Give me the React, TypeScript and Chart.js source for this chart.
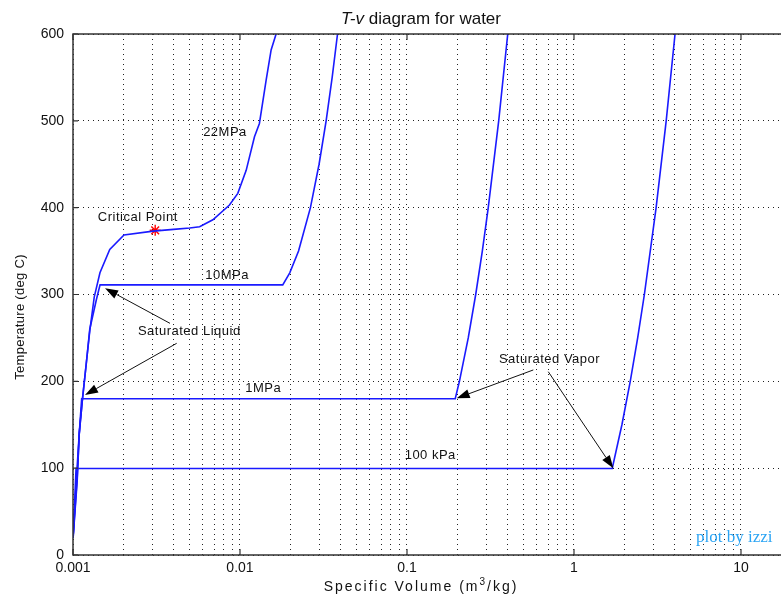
import React, { useEffect, useRef } from 'react';
import { Chart, registerables } from 'chart.js';

Chart.register(...registerables);

// ---- Isobar data (specific volume m^3/kg, temperature degC) ----
const v100kPa = [0.001002, 0.001043, 1.694, 1.936, 2.172, 2.406, 2.639, 3.103, 3.565, 4.028];
const T100kPa = [20, 99.6, 99.6, 150, 200, 250, 300, 400, 500, 600];

const v1MPa = [0.001002, 0.00106, 0.00109, 0.001127, 0.1944, 0.206, 0.2327, 0.2579, 0.2825, 0.3066, 0.3541, 0.4011];
const T1MPa = [20, 86, 140, 179.9, 179.9, 200, 250, 300, 350, 400, 500, 600];

const v10MPa = [0.001, 0.00106, 0.00109, 0.00114, 0.0012, 0.00126, 0.00138, 0.001452, 0.01803, 0.01986, 0.02242, 0.02641, 0.02975, 0.03279, 0.03564, 0.03837];
const T10MPa = [20, 90, 140, 180, 220, 260, 294, 311.1, 311.1, 325, 350, 400, 450, 500, 550, 600];

const v22MPa = [0.001, 0.00105, 0.00109, 0.00114, 0.0012, 0.00126, 0.00134, 0.00145, 0.00166, 0.00202, 0.00302, 0.004, 0.005, 0.00573, 0.00688, 0.00865, 0.0097, 0.01089, 0.01221, 0.01307, 0.01434, 0.01536, 0.01645];
const T22MPa = [20, 90, 140, 180, 220, 258, 297, 325, 352, 368.5, 373, 375, 376.6, 378, 386, 403, 416.5, 443, 481.7, 497, 547, 581.6, 600];

const criticalV = [0.003106];
const criticalT = [373.95];

// ---- Axes ----
const xMin = 0.001;
const xMax = 17.36;
const yMin = 0;
const yMax = 600;
const xTickValues = [0.001, 0.01, 0.1, 1, 10];
const xTickLabels = ['0.001', '0.01', '0.1', '1', '10'];
const xMinorFactors = [2, 3, 4, 5, 6, 7, 8, 9];
const yStep = 100;

// ---- Annotations (data coordinates) ----
const labelTexts = ['22MPa', 'Critical Point', '10MPa', '1MPa', '100 kPa', 'Saturated Liquid', 'Saturated Vapor'];
const labelV = [0.00813, 0.002444, 0.008361, 0.01378, 0.1378, 0.00497, 0.7135];
const labelT = [486.8, 388.9, 322.5, 192, 115.2, 257.2, 225.7];

const arrowTailV = [0.003809, 0.004178, 0.5705, 0.7015];
const arrowTailT = [266.8, 243.8, 213.1, 211.1];
const arrowTipV = [0.001555, 0.00118, 0.1984, 1.719];
const arrowTipT = [307.2, 184.3, 180.5, 99.8];

const watermarkText = 'plot by izzi';
const watermarkV = 9.12;
const watermarkT = 19.9;

const titleItalic = 'T-v';
const titleRest = ' diagram for water';
const yTitle = 'Temperature (deg C)';
const xTitleA = 'Specific Volume (m';
const xTitleSup = '3';
const xTitleB = '/kg)';

const SANS = '"Liberation Sans", Arial, Helvetica, sans-serif';
const LINE = '#1a1aff';
const PLOT_RIGHT = 781;

const overlay = {
  id: 'overlay',
  afterLayout(chart: any) {
    const x = chart.scales.x;
    x.right = PLOT_RIGHT;
    x.width = PLOT_RIGHT - x.left;
    x.configure();
    chart.chartArea.right = PLOT_RIGHT;
    chart.chartArea.width = PLOT_RIGHT - chart.chartArea.left;
  },
  afterDatasetsDraw(chart: any) {
    const { ctx, chartArea, scales } = chart;
    const x = scales.x;
    const y = scales.y;
    ctx.save();

    // arrows
    ctx.strokeStyle = '#111';
    ctx.fillStyle = '#000';
    ctx.lineWidth = 1;
    for (let i = 0; i < arrowTailV.length; i++) {
      const x1 = x.getPixelForValue(arrowTailV[i]);
      const y1 = y.getPixelForValue(arrowTailT[i]);
      const x2 = x.getPixelForValue(arrowTipV[i]);
      const y2 = y.getPixelForValue(arrowTipT[i]);
      const ang = Math.atan2(y2 - y1, x2 - x1);
      const len = 13;
      const hw = 4.5;
      const bx = x2 - len * Math.cos(ang);
      const by = y2 - len * Math.sin(ang);
      ctx.beginPath();
      ctx.moveTo(x1, y1);
      ctx.lineTo(bx, by);
      ctx.stroke();
      ctx.beginPath();
      ctx.moveTo(x2, y2);
      ctx.lineTo(bx + hw * Math.sin(ang), by - hw * Math.cos(ang));
      ctx.lineTo(bx - hw * Math.sin(ang), by + hw * Math.cos(ang));
      ctx.closePath();
      ctx.fill();
    }

    // labels
    ctx.font = `13px ${SANS}`;
    (ctx as any).letterSpacing = '0.5px';
    ctx.textAlign = 'center';
    ctx.textBaseline = 'middle';
    ctx.fillStyle = '#111';
    for (let i = 0; i < labelTexts.length; i++) {
      ctx.fillText(labelTexts[i], x.getPixelForValue(labelV[i]), y.getPixelForValue(labelT[i]));
    }
    (ctx as any).letterSpacing = '0px';

    // watermark
    ctx.font = `17px "Liberation Serif", "DejaVu Serif", serif`;
    ctx.fillStyle = '#2aa4f4';
    ctx.fillText(watermarkText, x.getPixelForValue(watermarkV), y.getPixelForValue(watermarkT));

    // frame
    const { left, right, top, bottom } = chartArea;
    ctx.strokeStyle = '#333';
    ctx.lineWidth = 1.5;
    ctx.beginPath();
    ctx.moveTo(right + 5, top);
    ctx.lineTo(left, top);
    ctx.lineTo(left, bottom);
    ctx.lineTo(right + 5, bottom);
    ctx.stroke();

    ctx.lineWidth = 1.2;
    ctx.beginPath();
    for (const v of xTickValues) {
      const px = x.getPixelForValue(v);
      ctx.moveTo(px, bottom);
      ctx.lineTo(px, bottom - 6);
      ctx.moveTo(px, top);
      ctx.lineTo(px, top + 6);
    }
    for (let t = yMin; t <= yMax; t += yStep) {
      const py = y.getPixelForValue(t);
      ctx.moveTo(left, py);
      ctx.lineTo(left + 5, py);
    }
    ctx.stroke();
    ctx.restore();
  },
  afterDraw(chart: any) {
    const { ctx } = chart;
    ctx.save();
    ctx.fillStyle = '#111';
    ctx.textBaseline = 'middle';

    // title
    const cx = 421;
    ctx.font = `italic 17px ${SANS}`;
    const wi = ctx.measureText(titleItalic).width;
    ctx.font = `17px ${SANS}`;
    const wr = ctx.measureText(titleRest).width;
    const sx = cx - (wi + wr) / 2;
    ctx.textAlign = 'left';
    ctx.font = `italic 17px ${SANS}`;
    ctx.fillText(titleItalic, sx, 19);
    ctx.font = `17px ${SANS}`;
    ctx.fillText(titleRest, sx + wi, 19);

    // x title
    (ctx as any).letterSpacing = '2px';
    ctx.font = `14px ${SANS}`;
    const wa = ctx.measureText(xTitleA).width;
    const wb = ctx.measureText(xTitleB).width;
    ctx.font = `10px ${SANS}`;
    const ws = ctx.measureText(xTitleSup).width;
    let px = 421 - (wa + ws + wb) / 2;
    const py = 587;
    ctx.font = `14px ${SANS}`;
    ctx.fillText(xTitleA, px, py);
    px += wa;
    ctx.font = `10px ${SANS}`;
    ctx.fillText(xTitleSup, px, py - 5);
    px += ws;
    ctx.font = `14px ${SANS}`;
    ctx.fillText(xTitleB, px, py);

    // y title
    (ctx as any).letterSpacing = '0.3px';
    ctx.font = `13px ${SANS}`;
    ctx.textAlign = 'center';
    ctx.translate(20, 317);
    ctx.rotate(-Math.PI / 2);
    ctx.fillText(yTitle, 0, 0);
    ctx.restore();
  },
};

function buildXTicks() {
  const ticks: { value: number }[] = [];
  for (const d of xTickValues) {
    ticks.push({ value: d });
    for (const k of xMinorFactors) {
      const v = parseFloat((d * k).toPrecision(6));
      if (v <= xMax) ticks.push({ value: v });
    }
  }
  return ticks;
}

export default function App() {
  const ref = useRef<HTMLCanvasElement | null>(null);

  useEffect(() => {
    if (!ref.current) return;
    const mk = (vs: number[], ts: number[]) => vs.map((v, i) => ({ x: v, y: ts[i] }));
    const lineDs = (label: string, vs: number[], ts: number[]) => ({
      label,
      data: mk(vs, ts),
      showLine: true,
      borderColor: LINE,
      backgroundColor: LINE,
      borderWidth: 1.6,
      pointRadius: 0,
      tension: 0,
      fill: false,
    });
    const chart = new Chart(ref.current, {
      type: 'scatter',
      data: {
        datasets: [
          lineDs('100 kPa', v100kPa, T100kPa),
          lineDs('1 MPa', v1MPa, T1MPa),
          lineDs('10 MPa', v10MPa, T10MPa),
          lineDs('22 MPa', v22MPa, T22MPa),
          {
            label: 'Critical Point',
            data: mk(criticalV, criticalT),
            showLine: false,
            pointStyle: 'star',
            pointRadius: 5.5,
            borderColor: '#ff0000',
            backgroundColor: '#ff0000',
            borderWidth: 1.4,
          } as any,
        ],
      },
      options: {
        responsive: false,
        animation: false,
        events: [],
        layout: { padding: { top: 34, right: 0, left: 0, bottom: 0 } },
        plugins: {
          legend: { display: false },
          tooltip: { enabled: false },
          title: { display: false },
        },
        scales: {
          x: {
            type: 'logarithmic',
            min: xMin,
            max: xMax,
            bounds: 'data',
            afterBuildTicks: (scale: any) => {
              scale.ticks = buildXTicks();
            },
            afterFit: (scale: any) => {
              scale.height = 41;
              scale.paddingRight = 0;
              scale.paddingLeft = 0;
            },
            grid: { color: '#222', lineWidth: 1, drawTicks: false },
            border: { display: false, dash: [1, 4] },
            ticks: {
              autoSkip: false,
              maxRotation: 0,
              padding: 5,
              color: '#111',
              font: { family: SANS, size: 14 },
              callback: (value: any) => {
                const v = Number(value);
                for (let i = 0; i < xTickValues.length; i++) {
                  if (Math.abs(Math.log10(v) - Math.log10(xTickValues[i])) < 1e-6) return xTickLabels[i];
                }
                return '';
              },
            },
          } as any,
          y: {
            type: 'linear',
            min: yMin,
            max: yMax,
            afterFit: (scale: any) => {
              scale.width = 73;
              scale.paddingTop = 0;
              scale.paddingBottom = 0;
            },
            grid: { color: '#222', lineWidth: 1, drawTicks: false },
            border: { display: false, dash: [1, 4] },
            ticks: {
              stepSize: yStep,
              padding: 9,
              color: '#111',
              font: { family: SANS, size: 14 },
            },
          } as any,
        },
      },
      plugins: [overlay],
    });
    return () => chart.destroy();
  }, []);

  return (
    <div style={{ position: 'absolute', left: 0, top: 0, width: 781, height: 596, background: '#fff' }}>
      <canvas ref={ref} width={781} height={596} style={{ display: 'block' }} />
    </div>
  );
}
